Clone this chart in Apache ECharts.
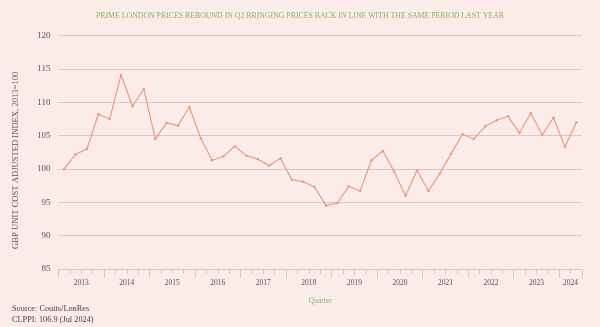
<!DOCTYPE html>
<html>
<head>
<meta charset="utf-8">
<script src="https://cdn.jsdelivr.net/npm/echarts@6/dist/echarts.min.js"></script>
<style>
html,body{margin:0;padding:0;background:#fbece9;}
#chart{width:600px;height:327px;}
</style>
</head>
<body>
<div id="chart"></div>
<script>
// Quarterly categories, 2013 Q1 .. 2024 Q2
var quarters = [
  '2013 Q1','2013 Q2','2013 Q3','2013 Q4',
  '2014 Q1','2014 Q2','2014 Q3','2014 Q4',
  '2015 Q1','2015 Q2','2015 Q3','2015 Q4',
  '2016 Q1','2016 Q2','2016 Q3','2016 Q4',
  '2017 Q1','2017 Q2','2017 Q3','2017 Q4',
  '2018 Q1','2018 Q2','2018 Q3','2018 Q4',
  '2019 Q1','2019 Q2','2019 Q3','2019 Q4',
  '2020 Q1','2020 Q2','2020 Q3','2020 Q4',
  '2021 Q1','2021 Q2','2021 Q3','2021 Q4',
  '2022 Q1','2022 Q2','2022 Q3','2022 Q4',
  '2023 Q1','2023 Q2','2023 Q3','2023 Q4',
  '2024 Q1','2024 Q2'
];
// GBP unit cost adjusted index (2013 = 100)
var indexValues = [
  100.0, 102.2, 103.0, 108.2, 107.5, 114.1, 109.4, 112.0,
  104.5, 106.9, 106.5, 109.3, 104.6, 101.3, 101.9, 103.4,
  102.0, 101.5, 100.5, 101.6, 98.4, 98.1, 97.3, 94.5,
  94.9, 97.4, 96.7, 101.3, 102.7, 99.6, 96.0, 99.8,
  96.7, 99.3, 102.3, 105.2, 104.5, 106.4, 107.3, 107.9,
  105.4, 108.4, 105.1, 107.7, 103.3, 107.0
];
var yearLabels = ['2013','2014','2015','2016','2017','2018','2019','2020','2021','2022','2023','2024'];
var yTicks = [85, 90, 95, 100, 105, 110, 115, 120];

var serif = '"Liberation Serif", "DejaVu Serif", serif';
var green = '#8ab563';
var textCol = '#555';
var gridCol = '#dcc7c3';
var lineCol = '#e69d83';

var nQ = quarters.length;

var chart = echarts.init(document.getElementById('chart'), null, {renderer: 'canvas'});
chart.setOption({
  backgroundColor: '#fbece9',
  animation: false,
  title: {
    text: 'PRIME LONDON PRICES REBOUND IN Q2 BRINGING PRICES BACK IN LINE WITH THE SAME PERIOD LAST YEAR',
    left: 'center',
    top: 7,
    textStyle: {fontFamily: serif, fontSize: 7.8, fontWeight: 'normal', color: green}
  },
  grid: {left: 58.5, right: 18, top: 35.6, bottom: 58},
  xAxis: [
    {
      type: 'category',
      data: quarters,
      boundaryGap: true,
      axisLine: {show: true, lineStyle: {color: gridCol, width: 1}},
      axisTick: {show: false},
      axisLabel: {show: false},
      splitLine: {show: false},
      name: 'Quarter',
      nameLocation: 'middle',
      nameGap: 28,
      nameTextStyle: {fontFamily: serif, fontSize: 7.5, color: green}
    },
    {
      type: 'value',
      min: 0,
      max: nQ,
      interval: 1,
      position: 'bottom',
      axisLine: {show: false},
      axisTick: {show: true, length: 5, lineStyle: {color: gridCol}},
      splitLine: {show: false},
      axisLabel: {
        show: true,
        margin: 10,
        fontFamily: serif,
        fontSize: 7.5,
        color: textCol,
        formatter: function (v) {
          var i = Math.round(v);
          var yi = Math.floor(i / 4);
          var lastYearStart = (yearLabels.length - 1) * 4;
          if (i >= lastYearStart) {
            return (i === Math.round((lastYearStart + nQ) / 2)) ? yearLabels[yearLabels.length - 1] : '';
          }
          return (i % 4 === 2) ? yearLabels[yi] : '';
        }
      }
    },
    {
      type: 'value',
      min: 0,
      max: nQ,
      interval: 4,
      position: 'bottom',
      axisLine: {show: false},
      axisTick: {show: true, length: 9, lineStyle: {color: gridCol}},
      splitLine: {show: false},
      axisLabel: {show: false}
    }
  ],
  yAxis: {
    type: 'value',
    min: yTicks[0],
    max: yTicks[yTicks.length - 1],
    interval: 5,
    axisLine: {show: false},
    axisTick: {show: false},
    axisLabel: {
      margin: 8,
      fontFamily: serif,
      fontSize: 9,
      color: textCol,
      formatter: function (v) { return yTicks.indexOf(v) >= 0 ? String(v) : ''; }
    },
    splitLine: {show: true, lineStyle: {color: gridCol, width: 1}},
    name: 'GBP UNIT COST ADJUSTED INDEX, 2013=100',
    nameLocation: 'middle',
    nameGap: 38,
    nameRotate: 90,
    nameTextStyle: {fontFamily: serif, fontSize: 8.6, color: textCol, padding: [0, 16, 0, 0]}
  },
  graphic: [
    {
      type: 'text',
      left: 12,
      top: 303,
      style: {
        text: 'Source: Coutts/LonRes\nCLPPI: 106.9 (Jul 2024)',
        font: '8.3px ' + serif,
        fill: '#444',
        lineHeight: 11
      }
    }
  ],
  series: [
    {
      type: 'line',
      xAxisIndex: 0,
      data: indexValues,
      symbol: 'circle',
      symbolSize: 2.5,
      lineStyle: {color: lineCol, width: 1.2},
      itemStyle: {color: lineCol}
    }
  ]
});
</script>
</body>
</html>
